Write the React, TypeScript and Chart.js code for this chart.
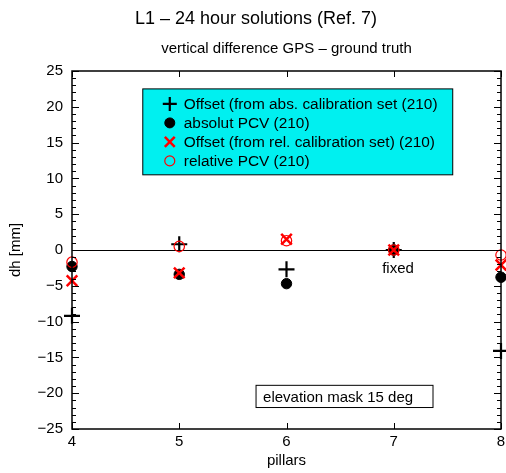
import React, { useEffect, useRef } from "react";
import { Chart, registerables } from "chart.js";
import { drawPoint } from "chart.js/helpers";

Chart.register(...registerables);

const FONT = "'Liberation Sans', Arial, Helvetica, sans-serif";

const pillars = [4, 5, 6, 7, 8];
const offsetAbs = [-9.2, 0.8, -2.7, 0, -14.1];
const absolutPCV = [-2.3, -3.4, -4.7, 0, -3.8];
const offsetRel = [-4.3, -3.2, 1.5, 0, -2.1];
const relativePCV = [-1.7, 0.5, 1.3, 0, -0.7];

const seriesLabels = [
  "Offset (from abs. calibration set (210)",
  "absolut PCV (210)",
  "Offset (from rel. calibration set) (210)",
  "relative PCV (210)",
];
const yTicks = [-25, -20, -15, -10, -5, 0, 5, 10, 15, 20, 25];
const titleText = "L1 \u2013 24 hour solutions (Ref. 7)";
const subtitleText = "vertical difference GPS \u2013 ground truth";
const noteText = "elevation mask 15 deg";
const fixedText = "fixed";

const toPts = (ys: number[]) => pillars.map((x, i) => ({ x, y: ys[i] }));

const decorPlugin = {
  id: "decor",
  beforeDatasetsDraw(chart: any) {
    const { ctx, chartArea: a, scales } = chart;
    const ys = scales.y;
    ctx.save();
    ctx.strokeStyle = "#000";
    ctx.lineWidth = 1;
    const y0 = Math.round(ys.getPixelForValue(0)) + 0.5;
    ctx.beginPath();
    ctx.moveTo(a.left, y0);
    ctx.lineTo(a.right, y0);
    ctx.stroke();
    ctx.restore();
  },
  afterDatasetsDraw(chart: any) {
    const { ctx, chartArea: a, scales } = chart;
    const xs = scales.x;
    const ys = scales.y;
    ctx.save();
    ctx.strokeStyle = "#000";
    ctx.lineWidth = 1;
    for (let v = -25; v <= 25; v++) {
      const py = Math.round(ys.getPixelForValue(v)) + 0.5;
      const len = v % 5 === 0 ? 7 : 4;
      ctx.beginPath();
      ctx.moveTo(a.left, py);
      ctx.lineTo(a.left + len, py);
      ctx.moveTo(a.right, py);
      ctx.lineTo(a.right - len, py);
      ctx.stroke();
    }
    for (const xv of pillars) {
      const px = Math.round(xs.getPixelForValue(xv)) + 0.5;
      ctx.beginPath();
      ctx.moveTo(px, a.top);
      ctx.lineTo(px, a.top + 6);
      ctx.moveTo(px, a.bottom);
      ctx.lineTo(px, a.bottom - 6);
      ctx.stroke();
    }
    ctx.lineWidth = 1.5;
    ctx.strokeRect(a.left, a.top, a.right - a.left, a.bottom - a.top);

    ctx.fillStyle = "#000";
    ctx.textBaseline = "middle";
    ctx.textAlign = "center";
    ctx.font = `18px ${FONT}`;
    ctx.fillText(titleText, chart.width / 2 + 3, 19);
    ctx.font = `15px ${FONT}`;
    ctx.fillText(subtitleText, (a.left + a.right) / 2, 49);

    const lx = xs.getPixelForValue(4.66);
    const rx = xs.getPixelForValue(7.55);
    const ty = ys.getPixelForValue(22.5);
    const by = ys.getPixelForValue(10.5);
    ctx.fillStyle = "#00f0f0";
    ctx.fillRect(lx, ty, rx - lx, by - ty);
    ctx.strokeStyle = "#000";
    ctx.lineWidth = 1;
    ctx.strokeRect(lx, ty, rx - lx, by - ty);
    const datasets = chart.data.datasets;
    ctx.font = `15.4px ${FONT}`;
    ctx.textAlign = "left";
    datasets.forEach((ds: any, i: number) => {
      const rowY = ty + 15 + i * 19;
      const mx = lx + 27;
      ctx.save();
      ctx.strokeStyle = ds.borderColor;
      ctx.fillStyle = ds.backgroundColor;
      ctx.lineWidth = ds.borderWidth;
      drawPoint(ctx, { pointStyle: ds.pointStyle, radius: ds.legendRadius, borderWidth: ds.borderWidth, rotation: 0 }, mx, rowY);
      ctx.restore();
      ctx.fillStyle = "#000";
      ctx.fillText(ds.label, lx + 41, rowY + 1);
    });

    const nx1 = xs.getPixelForValue(5.716);
    const nx2 = xs.getPixelForValue(7.366);
    const ny1 = ys.getPixelForValue(-18.9);
    const ny2 = ys.getPixelForValue(-22);
    ctx.fillStyle = "#fff";
    ctx.fillRect(nx1, ny1, nx2 - nx1, ny2 - ny1);
    ctx.strokeRect(nx1, ny1, nx2 - nx1, ny2 - ny1);
    ctx.fillStyle = "#000";
    ctx.font = `15px ${FONT}`;
    ctx.fillText(noteText, nx1 + 7, (ny1 + ny2) / 2 + 1);

    ctx.textAlign = "center";
    ctx.fillText(fixedText, xs.getPixelForValue(7.04), ys.getPixelForValue(-2.65));
    ctx.restore();
  },
};

export default function App() {
  const ref = useRef<HTMLCanvasElement>(null);
  useEffect(() => {
    if (!ref.current) return;
    const chart = new Chart(ref.current, {
      type: "scatter",
      data: {
        datasets: [
          {
            label: seriesLabels[0],
            data: toPts(offsetAbs),
            pointStyle: "cross",
            pointRadius: 8,
            legendRadius: 7,
            borderColor: "#000",
            backgroundColor: "#000",
            borderWidth: 2.2,
            order: 3,
            clip: false,
          } as any,
          {
            label: seriesLabels[1],
            data: toPts(absolutPCV),
            pointStyle: "circle",
            pointRadius: 5.2,
            legendRadius: 5,
            borderColor: "#000",
            backgroundColor: "#000",
            borderWidth: 1,
            order: 2,
            clip: false,
          } as any,
          {
            label: seriesLabels[2],
            data: toPts(offsetRel),
            pointStyle: "crossRot",
            pointRadius: 7.5,
            legendRadius: 7,
            borderColor: "#ff0000",
            backgroundColor: "#ff0000",
            borderWidth: 2.5,
            order: 1,
            clip: false,
          } as any,
          {
            label: seriesLabels[3],
            data: toPts(relativePCV),
            pointStyle: "circle",
            pointRadius: 5.2,
            legendRadius: 5,
            borderColor: "#ff0000",
            backgroundColor: "rgba(0,0,0,0)",
            borderWidth: 1.2,
            order: 0,
            clip: false,
          } as any,
        ],
      },
      options: {
        animation: false,
        responsive: false,
        layout: { autoPadding: false, padding: { top: 71, right: 5, left: 0, bottom: 0 } },
        plugins: {
          legend: { display: false },
          title: { display: false },
          tooltip: { enabled: false },
        },
        scales: {
          x: {
            type: "linear",
            min: 4,
            max: 8,
            afterFit: (s: any) => {
              s.height = 44;
              s.paddingRight = 0;
              s.paddingLeft = 0;
            },
            afterBuildTicks: (s: any) => {
              s.ticks = pillars.map((v) => ({ value: v }));
            },
            grid: { display: false, drawTicks: false },
            border: { display: false },
            ticks: {
              padding: 4,
              color: "#000",
              font: { family: FONT, size: 15 },
              maxRotation: 0,
            },
            title: {
              display: true,
              text: "pillars",
              color: "#000",
              font: { family: FONT, size: 15 },
              padding: { top: 0, bottom: 3 },
            },
          },
          y: {
            type: "linear",
            min: -25,
            max: 25,
            afterFit: (s: any) => {
              s.width = 72;
              s.paddingTop = 0;
              s.paddingBottom = 0;
            },
            afterBuildTicks: (s: any) => {
              s.ticks = yTicks.map((v) => ({ value: v }));
            },
            grid: { display: false, drawTicks: false },
            border: { display: false },
            ticks: {
              padding: 9,
              color: "#000",
              font: { family: FONT, size: 15 },
              callback: (v: any) => (v < 0 ? "\u2212" + Math.abs(v) : String(v)),
            },
            title: {
              display: true,
              text: "dh [mm]",
              color: "#000",
              font: { family: FONT, size: 15 },
              padding: { top: 7, bottom: 0 },
            },
          },
        },
      } as any,
      plugins: [decorPlugin],
    });
    return () => chart.destroy();
  }, []);
  return (
    <div style={{ position: "fixed", left: 0, top: 0, width: 506, height: 473, background: "#fff" }}>
      <canvas ref={ref} width={506} height={473} style={{ display: "block" }} />
    </div>
  );
}
